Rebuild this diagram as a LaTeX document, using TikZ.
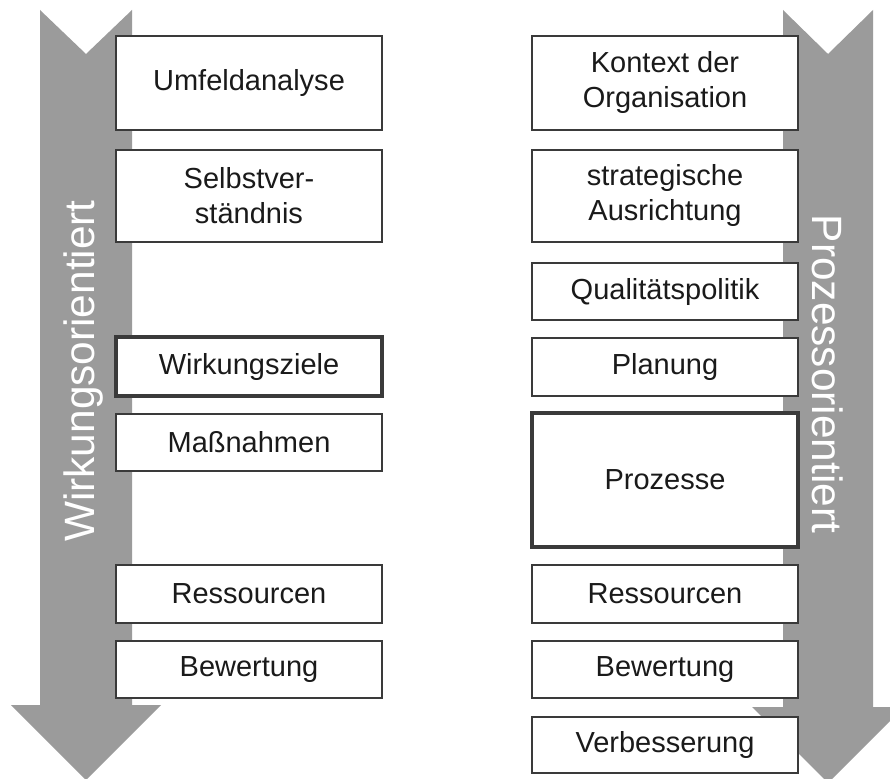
\documentclass[tikz,border=0pt]{standalone}
\usepackage{fontspec}
\setmainfont{Liberation Sans}
\definecolor{arrowgray}{HTML}{9B9B9B}
\definecolor{framegray}{HTML}{3A3A3A}
\definecolor{inkblack}{HTML}{1A1A1A}
\begin{document}
\begin{tikzpicture}[x=1pt,y=-1pt,
  stepbox/.style={draw=framegray, fill=white, line width=2pt, rectangle,
    minimum width=266pt, inner sep=0pt, align=center, text=inkblack,
    font=\fontsize{29}{35}\selectfont},
  keybox/.style={stepbox, line width=4.5pt},
  flowlabel/.style={text=white, inner sep=0pt, font=\fontsize{42.4}{46}\selectfont}]
\useasboundingbox (0,0) rectangle (890,778);

% broad arrows in the background
\fill[arrowgray] (40,10) -- (86,54) -- (132,10) -- (132,705) -- (161,705)
  -- (86,780) -- (11,705) -- (40,705) -- cycle;
\fill[arrowgray] (783,10) -- (828,54) -- (873,10) -- (873,707) -- (904,707)
  -- (828,783) -- (752,707) -- (783,707) -- cycle;

\node[flowlabel, rotate=90] (wirk) at (84,371) {Wirkungsorientiert};
\node[flowlabel, rotate=-90] (proz) at (828,374) {Prozessorientiert};

% left column
\node[stepbox, minimum height=94pt] (l1) at (249,83) {Umfeldanalyse};
\node[stepbox, minimum height=92pt] (l2) at (249,196) {Selbstver-\\ständnis};
\node[keybox, minimum height=59pt] (l3) at (249,366.5) {Wirkungsziele};
\node[stepbox, minimum height=57pt] (l4) at (249,442.5) {Maßnahmen};
\node[stepbox, minimum height=58pt] (l5) at (249,594) {Ressourcen};
\node[stepbox, minimum height=57pt] (l6) at (249,669.5) {Bewertung};

% right column
\node[stepbox, minimum height=94pt] (r1) at (665,83) {Kontext der\\Organisation};
\node[stepbox, minimum height=92pt] (r2) at (665,196) {strategische\\Ausrichtung};
\node[stepbox, minimum height=57pt] (r3) at (665,291.5) {Qualitätspolitik};
\node[stepbox, minimum height=58pt] (r4) at (665,367) {Planung};
\node[keybox, minimum height=134pt] (r5) at (665,480) {Prozesse};
\node[stepbox, minimum height=58pt] (r6) at (665,594) {Ressourcen};
\node[stepbox, minimum height=57pt] (r7) at (665,669.5) {Bewertung};
\node[stepbox, minimum height=56pt] (r8) at (665,745) {Verbesserung};
\end{tikzpicture}
\end{document}
